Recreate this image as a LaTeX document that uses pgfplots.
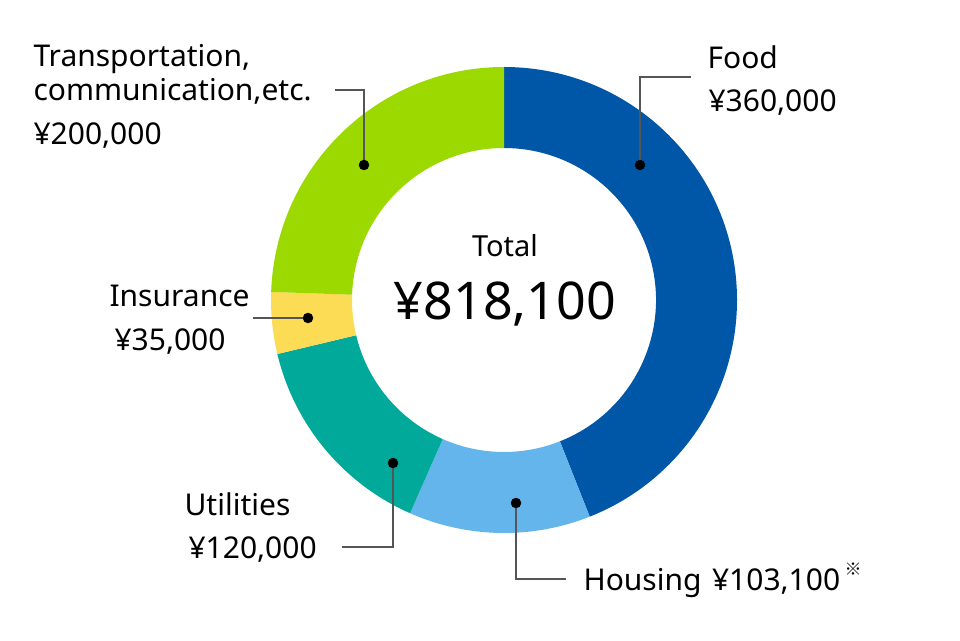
\documentclass[border=0pt]{standalone}
\usepackage{pgfplots}
\pgfplotsset{compat=1.18}
\usepackage{pgfplotstable}
\usepackage{fontspec}
\setmainfont{Noto Sans}
\newfontfamily\cjk{Noto Sans CJK JP}

\definecolor{cFood}{HTML}{0057A8}
\definecolor{cHousing}{HTML}{64B5EB}
\definecolor{cUtil}{HTML}{00A99A}
\definecolor{cIns}{HTML}{FCDC55}
\definecolor{cTrans}{HTML}{9CD900}
\definecolor{cLine}{HTML}{555555}

\pgfplotstableread{
label value
Food 360000
Housing 103100
Utilities 120000
Insurance 35000
Transport 200000
}\datatable

\pgfplotstablegetelem{0}{value}\of\datatable\let\vA\pgfplotsretval
\pgfplotstablegetelem{1}{value}\of\datatable\let\vB\pgfplotsretval
\pgfplotstablegetelem{2}{value}\of\datatable\let\vC\pgfplotsretval
\pgfplotstablegetelem{3}{value}\of\datatable\let\vD\pgfplotsretval
\pgfplotstablegetelem{4}{value}\of\datatable\let\vE\pgfplotsretval
\edef\vTot{\fpeval{\vA+\vB+\vC+\vD+\vE}}
\edef\aA{90}
\edef\aB{\fpeval{90-360*(\vA)/\vTot}}
\edef\aC{\fpeval{90-360*(\vA+\vB)/\vTot}}
\edef\aD{\fpeval{90-360*(\vA+\vB+\vC)/\vTot}}
\edef\aE{\fpeval{90-360*(\vA+\vB+\vC+\vD)/\vTot}}
\edef\aF{-270}

\newcommand\donutwedge[3]{%
  \begin{scope}[shift={(axis cs:504,340)}]
    \fill[#3] (#1:233pt) arc[start angle=#1, end angle=#2, radius=233pt]
      -- (#2:152pt) arc[start angle=#2, end angle=#1, radius=152pt] -- cycle;
  \end{scope}}

\begin{document}
\begin{tikzpicture}
\begin{axis}[
  scale only axis, width=960pt, height=640pt,
  xmin=0, xmax=960, ymin=0, ymax=640,
  hide axis, clip=false,
  every node/.style={inner sep=0pt, outer sep=0pt},
]
\fill[white] (axis cs:0,0) rectangle (axis cs:960,640);
\donutwedge{\aA}{\aB}{cFood}
\donutwedge{\aB}{\aC}{cHousing}
\donutwedge{\aC}{\aD}{cUtil}
\donutwedge{\aD}{\aE}{cIns}
\donutwedge{\aE}{\aF}{cTrans}

% leader lines
\addplot[cLine, line width=1.2pt] coordinates {(640,475) (640,563) (691,563)};
\addplot[cLine, line width=1.2pt] coordinates {(364,475) (364,550) (335,550)};
\addplot[cLine, line width=1.2pt] coordinates {(308,322) (253,322)};
\addplot[cLine, line width=1.2pt] coordinates {(393,177) (393,93) (342,93)};
\addplot[cLine, line width=1.2pt] coordinates {(516,137) (516,61) (566,61)};
% dots
\addplot[only marks, mark=*, mark size=5pt, black] coordinates {(640,475) (364,475) (308,322) (393,177) (516,137)};

% labels
\node[anchor=base west, font=\fontsize{30}{36}\selectfont] at (axis cs:704,571) {Food};
\node[anchor=base west, font=\fontsize{30}{36}\selectfont] at (axis cs:705,528) {¥360,000};
\node[anchor=base west, font=\fontsize{30}{36}\selectfont] at (axis cs:30,573) {Transportation,};
\node[anchor=base west, font=\fontsize{30}{36}\selectfont] at (axis cs:30,539) {communication,etc.};
\node[anchor=base west, font=\fontsize{30}{36}\selectfont] at (axis cs:30,495) {¥200,000};
\node[anchor=base west, font=\fontsize{30}{36}\selectfont] at (axis cs:106,333) {Insurance};
\node[anchor=base west, font=\fontsize{30}{36}\selectfont] at (axis cs:111,289) {¥35,000};
\node[anchor=base west, font=\fontsize{30}{36}\selectfont] at (axis cs:181,125) {Utilities};
\node[anchor=base west, font=\fontsize{30}{36}\selectfont] at (axis cs:185,82) {¥120,000};
\node[anchor=base west, font=\fontsize{30}{36}\selectfont] at (axis cs:580,50) {Housing\hspace{0.35em}¥103,100\hspace{0.15em}\raisebox{0.5em}{\cjk\fontsize{17}{18}\selectfont ※}};
\node[anchor=base, font=\fontsize{29}{34}\selectfont] at (axis cs:505,383) {Total};
\node[anchor=base, font=\fontsize{52}{58}\selectfont] at (axis cs:505,320) {¥818,100};
\end{axis}
\end{tikzpicture}
\end{document}
